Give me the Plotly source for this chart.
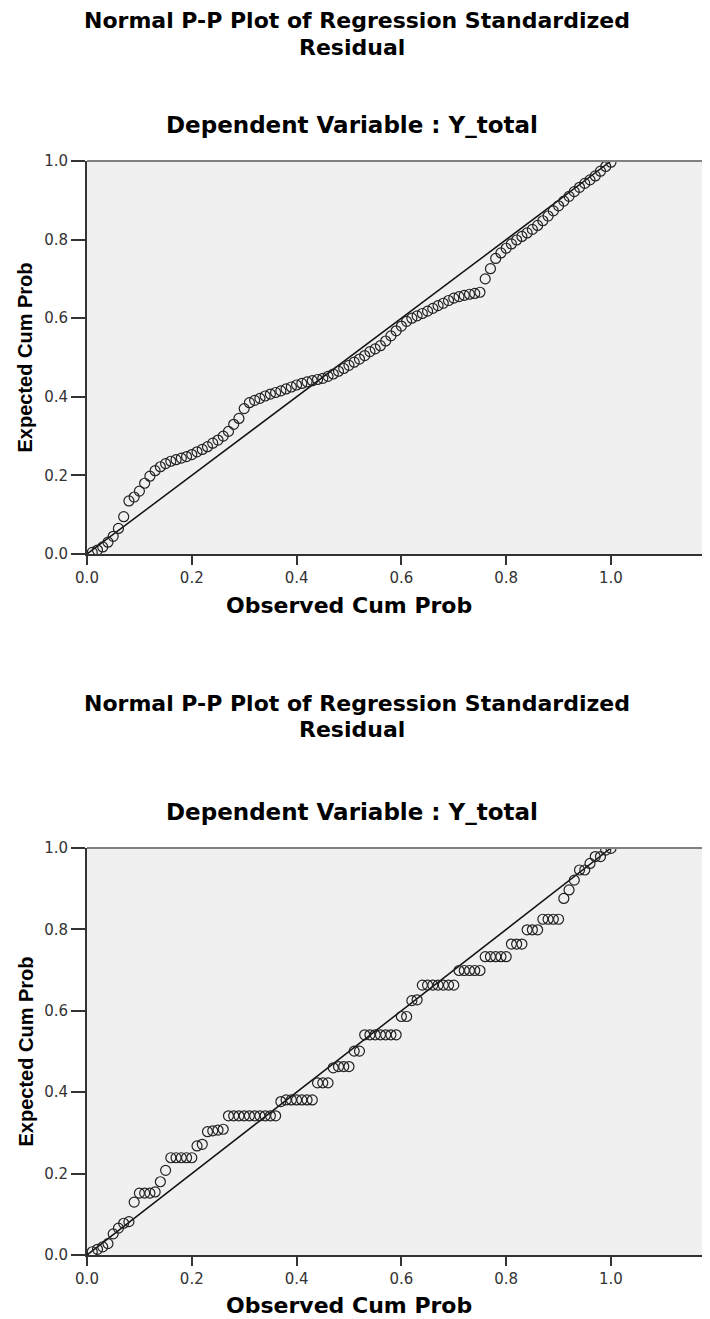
import plotly.graph_objects as go

# ---------------- data ----------------
top_observed = [0.01, 0.02, 0.03, 0.04, 0.05, 0.06, 0.07, 0.08, 0.09, 0.10,
                0.11, 0.12, 0.13, 0.14, 0.15, 0.16, 0.17, 0.18, 0.19, 0.20,
                0.21, 0.22, 0.23, 0.24, 0.25, 0.26, 0.27, 0.28, 0.29, 0.30,
                0.31, 0.32, 0.33, 0.34, 0.35, 0.36, 0.37, 0.38, 0.39, 0.40,
                0.41, 0.42, 0.43, 0.44, 0.45, 0.46, 0.47, 0.48, 0.49, 0.50,
                0.51, 0.52, 0.53, 0.54, 0.55, 0.56, 0.57, 0.58, 0.59, 0.60,
                0.61, 0.62, 0.63, 0.64, 0.65, 0.66, 0.67, 0.68, 0.69, 0.70,
                0.71, 0.72, 0.73, 0.74, 0.75, 0.76, 0.77, 0.78, 0.79, 0.80,
                0.81, 0.82, 0.83, 0.84, 0.85, 0.86, 0.87, 0.88, 0.89, 0.90,
                0.91, 0.92, 0.93, 0.94, 0.95, 0.96, 0.97, 0.98, 0.99, 1.00]
top_expected = [0.004, 0.010, 0.018, 0.030, 0.045, 0.065, 0.095, 0.135, 0.145, 0.160,
                0.180, 0.198, 0.212, 0.222, 0.230, 0.236, 0.240, 0.244, 0.248, 0.253,
                0.260, 0.266, 0.273, 0.282, 0.290, 0.300, 0.312, 0.330, 0.345, 0.370,
                0.385, 0.391, 0.396, 0.402, 0.407, 0.411, 0.415, 0.420, 0.425, 0.430,
                0.434, 0.438, 0.441, 0.444, 0.447, 0.452, 0.458, 0.465, 0.472, 0.480,
                0.488, 0.496, 0.505, 0.515, 0.522, 0.530, 0.542, 0.555, 0.568, 0.580,
                0.592, 0.600, 0.606, 0.612, 0.618, 0.625, 0.632, 0.638, 0.645, 0.651,
                0.655, 0.658, 0.661, 0.663, 0.666, 0.700, 0.726, 0.752, 0.766, 0.778,
                0.789, 0.799, 0.808, 0.817, 0.826, 0.836, 0.848, 0.860, 0.873, 0.886,
                0.898, 0.910, 0.922, 0.933, 0.943, 0.952, 0.962, 0.974, 0.986, 0.997]

bottom_observed = top_observed
bottom_expected = [0.008, 0.014, 0.020, 0.028, 0.052, 0.066, 0.078, 0.082, 0.130, 0.152,
                   0.152, 0.152, 0.155, 0.180, 0.208, 0.239, 0.239, 0.239, 0.239, 0.239,
                   0.268, 0.272, 0.303, 0.305, 0.307, 0.309, 0.342, 0.342, 0.342, 0.342,
                   0.342, 0.342, 0.342, 0.342, 0.342, 0.342, 0.377, 0.381, 0.381, 0.381,
                   0.381, 0.381, 0.381, 0.423, 0.423, 0.423, 0.460, 0.463, 0.463, 0.463,
                   0.501, 0.501, 0.541, 0.541, 0.541, 0.541, 0.541, 0.541, 0.541, 0.586,
                   0.586, 0.625, 0.627, 0.663, 0.663, 0.663, 0.663, 0.663, 0.663, 0.663,
                   0.699, 0.699, 0.699, 0.699, 0.699, 0.733, 0.733, 0.733, 0.733, 0.733,
                   0.764, 0.764, 0.764, 0.799, 0.799, 0.799, 0.825, 0.825, 0.825, 0.825,
                   0.876, 0.897, 0.921, 0.946, 0.946, 0.962, 0.979, 0.979, 0.995, 0.999]

diag_x = [0, 1]
diag_y = [0, 1]

tick_vals = [0.0, 0.2, 0.4, 0.6, 0.8, 1.0]
tick_text = ["0.0", "0.2", "0.4", "0.6", "0.8", "1.0"]

title_line1 = "Normal P-P Plot of Regression Standardized"
title_line2 = "Residual"
subtitle = "Dependent Variable : Y_total"
x_title = "Observed Cum Prob"
y_title = "Expected Cum Prob"

# ---------------- layout helpers ----------------
# the page body has an 8px margin at top/left; the figure fills the rest of the window
PAGE_OFF = 8
W, H = 710 - PAGE_OFF, 1319 - PAGE_OFF


def px_x(p):
    return (p - PAGE_OFF) / W


def px_y(p):
    return 1 - (p - PAGE_OFF) / H


BOLD = "DejaVu Sans"
DARK = "#333333"

fig = go.Figure()

for xs, ys, xa, ya in [(top_observed, top_expected, "x", "y"),
                       (bottom_observed, bottom_expected, "x2", "y2")]:
    fig.add_trace(go.Scatter(x=diag_x, y=diag_y, mode="lines",
                             line=dict(color="#111111", width=1.5),
                             xaxis=xa, yaxis=ya, hoverinfo="skip", showlegend=False))
    fig.add_trace(go.Scatter(x=xs, y=ys, mode="markers",
                             marker=dict(symbol="circle-open", size=10, color="#222222",
                                         line=dict(width=1.2, color="#222222")),
                             xaxis=xa, yaxis=ya, showlegend=False))

x_dom = [px_x(87), 1]
top_dom = [px_y(554), px_y(161)]
bot_dom = [px_y(1255), px_y(848)]

xcommon = dict(range=[0, 1.189], tickvals=tick_vals, ticktext=tick_text,
               showgrid=False, zeroline=False, showline=True, linecolor=DARK, linewidth=2,
               ticks="outside", ticklen=9, tickwidth=2, tickcolor=DARK,
               tickfont=dict(family="DejaVu Sans", size=15, color=DARK),
               domain=x_dom, fixedrange=True, automargin=False)
ycommon = dict(range=[0, 1], tickvals=tick_vals, ticktext=tick_text,
               showgrid=False, zeroline=False, showline=True, linecolor=DARK, linewidth=2,
               ticks="outside", ticklen=14, tickwidth=2, tickcolor=DARK,
               tickfont=dict(family="DejaVu Sans", size=15, color=DARK),
               fixedrange=True, automargin=False)

fig.update_layout(
    template="none",
    width=W, height=H,
    margin=dict(l=0, r=0, t=0, b=0, pad=0, autoexpand=False),
    paper_bgcolor="white",
    plot_bgcolor="#f0f0f0",
    showlegend=False,
    xaxis=dict(**xcommon, anchor="y"),
    yaxis=dict(**ycommon, domain=top_dom, anchor="x"),
    xaxis2=dict(**xcommon, anchor="y2"),
    yaxis2=dict(**ycommon, domain=bot_dom, anchor="x2"),
)

# top borders of the plot areas
for xr, yr in [("x domain", "y domain"), ("x2 domain", "y2 domain")]:
    fig.add_shape(type="line", xref=xr, yref=yr, x0=0, x1=1, y0=1, y1=1,
                  line=dict(color="#808080", width=2))

annots = []
for dy in (0, 1):
    off_title = 682 if dy else 0
    off_sub = 687 if dy else 0
    off_x = 700 if dy else 0
    y_center = 1051.5 if dy else 357.5
    annots += [
        dict(text=title_line1, x=px_x(357), y=px_y(21 + off_title),
             font=dict(family=BOLD, size=22, color="black", weight="bold")),
        dict(text=title_line2, x=px_x(352), y=px_y(47 + off_title),
             font=dict(family=BOLD, size=22, color="black", weight="bold")),
        dict(text=subtitle, x=px_x(352), y=px_y(125 + off_sub),
             font=dict(family=BOLD, size=23, color="black", weight="bold")),
        dict(text=x_title, x=px_x(349), y=px_y(605 + off_x),
             font=dict(family=BOLD, size=22, color="black", weight="bold")),
        dict(text=y_title, x=px_x(25), y=px_y(y_center), textangle=-90,
             font=dict(family="Liberation Sans", size=20, color="black", weight="bold")),
    ]
for a in annots:
    a.update(xref="paper", yref="paper", showarrow=False,
             xanchor="center", yanchor="middle")
fig.update_layout(annotations=annots)

fig.write_html("out.html")
